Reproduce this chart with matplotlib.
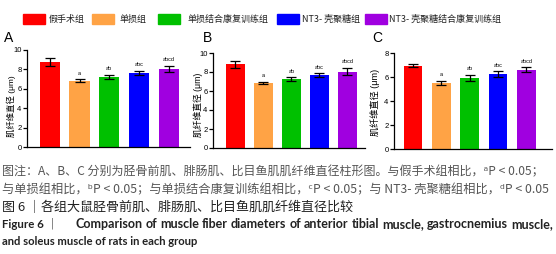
import matplotlib
matplotlib.use("Agg")
import matplotlib.pyplot as plt
from matplotlib.patches import Rectangle
import numpy as np

plt.rcParams['font.family'] = ['Liberation Sans', 'Noto Sans CJK SC', 'DejaVu Sans']

# ---- data ------------------------------------------------------------------
groups = ["假手术组", "单损组", "单损结合康复训练组", "NT3- 壳聚糖组", "NT3- 壳聚糖结合康复训练组"]
colors = ["#FF0000", "#FFA345", "#00C000", "#0000FF", "#A000E0"]
sig_marks = ["", "a", "ab", "abc", "abcd"]

tibial_mean = [8.8, 6.85, 7.25, 7.65, 8.05]
tibial_err = [0.4, 0.15, 0.22, 0.2, 0.35]
gastro_mean = [8.8, 6.85, 7.25, 7.65, 8.05]
gastro_err = [0.4, 0.15, 0.2, 0.2, 0.4]
soleus_mean = [6.95, 5.5, 5.95, 6.25, 6.6]
soleus_err = [0.12, 0.18, 0.25, 0.25, 0.2]

y_label = "肌纤维直径 (μm)"
panel_letters = ["A", "B", "C"]

W, H = 556, 254
fig = plt.figure(figsize=(W / 100, H / 100), dpi=100)


def px_axes(x0, x1, ytop, ybot):
    # axes rect from pixel positions
    return fig.add_axes([x0 / W, 1 - ybot / H, (x1 - x0) / W, (ybot - ytop) / H])


panels = [
    (px_axes(27, 190, 50, 147), tibial_mean, tibial_err, 10, (-0.77, 4.72), 0.68, 0.42, 6.0),
    (px_axes(213, 365, 53, 148), gastro_mean, gastro_err, 10, (-0.80, 4.63), 0.68, 0.45, 6.3),
    (px_axes(394, 552, 53, 149), soleus_mean, soleus_err, 8, (-0.67, 4.9), 0.66, 0.48, 6.6),
]
letter_x = [4, 203, 372]
label_x = [11, 198, 375]

for i, (ax, mean, err, ymax, xl, bw, ly, lfs) in enumerate(panels):
    x = np.arange(len(mean))
    ax.bar(x, mean, width=bw, color=colors, zorder=2)
    ax.errorbar(x, mean, yerr=err, fmt="none", ecolor="black", elinewidth=0.9,
                capsize=3.6, capthick=0.9, zorder=3)
    for xi, m, e, s in zip(x, mean, err, sig_marks):
        if s:
            ax.annotate(s, (xi, m + e), xytext=(0, 2.5), textcoords="offset points",
                        ha="center", va="bottom", fontsize=4)
    ax.set_xlim(*xl)
    ax.set_ylim(0, ymax)
    ax.set_yticks(np.arange(0, ymax + 1, 2))
    ax.set_xticks([])
    ax.spines[['top', 'right']].set_visible(False)
    ax.spines[['left', 'bottom']].set_linewidth(0.9)
    ax.tick_params(axis='y', labelsize=5.5, length=3, width=0.9, pad=1)
    ax.set_ylabel(y_label, fontsize=lfs, va="center")
    bb = ax.get_position()
    ax.yaxis.set_label_coords((label_x[i] / W - bb.x0) / bb.width, ly)
    fig.text(letter_x[i] / W, 1 - 38 / H, panel_letters[i], fontsize=10, va="center", ha="left")

# ---- legend (manual) --------------------------------------------------------
patch_x = [23, 92, 158, 277, 365]
text_x = [49, 120, 188, 302, 389]
for px, tx, c, g in zip(patch_x, text_x, colors, groups):
    fig.add_artist(Rectangle((px / W, 1 - 23.5 / H), 22 / W, 9.5 / H, color=c,
                             transform=fig.transFigure))
    fig.text(tx / W, 1 - 19 / H, g, fontsize=6.5, va="center", ha="left", color="#222222",
             family=['Noto Sans CJK SC', 'DejaVu Sans'])

# ---- caption ----------------------------------------------------------------
cap1 = "图注：A、B、C 分别为胫骨前肌、腓肠肌、比目鱼肌肌纤维直径柱形图。与假手术组相比，ᵃP < 0.05；"
cap2 = "与单损组相比，ᵇP < 0.05；与单损结合康复训练组相比，ᶜP < 0.05；与 NT3- 壳聚糖组相比，ᵈP < 0.05"
cap3 = "图 6 ｜各组大鼠胫骨前肌、腓肠肌、比目鱼肌肌纤维直径比较"
cap4_head = "Figure 6 ｜"
cap4 = "Comparison of muscle fiber diameters of anterior tibial muscle, gastrocnemius muscle,"
cap5 = "and soleus muscle of rats in each group"

cjk = ['Noto Sans CJK SC', 'DejaVu Sans']
eng = ['Lato', 'Noto Sans CJK SC']
fig.text(2 / W, 1 - 172 / H, cap1, fontsize=8.65, color="#555555", va="center", family=cjk)
fig.text(2 / W, 1 - 189.5 / H, cap2, fontsize=8.8, color="#555555", va="center", family=cjk)
fig.text(2 / W, 1 - 207 / H, cap3, fontsize=9.4, color="#222222", va="center", family=cjk)
fig.text(2 / W, 1 - 224.5 / H, cap4_head, fontsize=8.3, color="#222222", va="center",
         weight="bold", family=eng)

# justified line: spread the words between x=75 and x=553 px
renderer = fig.canvas.get_renderer()
words = cap4.split(" ")
arts = [fig.text(0, 1 - 224.5 / H, w, fontsize=9.0, color="#222222", va="center",
                 weight="bold", family=eng) for w in words]
widths = [a.get_window_extent(renderer).width for a in arts]
x0, x1 = 75, 553
gap = (x1 - x0 - sum(widths)) / (len(words) - 1)
xc = x0
for a, wd in zip(arts, widths):
    a.set_x(xc / W)
    xc += wd + gap

fig.text(2 / W, 1 - 241.5 / H, cap5, fontsize=8.1, color="#222222", va="center",
         weight="bold", family=eng)

fig.savefig("out.png", dpi=100)
